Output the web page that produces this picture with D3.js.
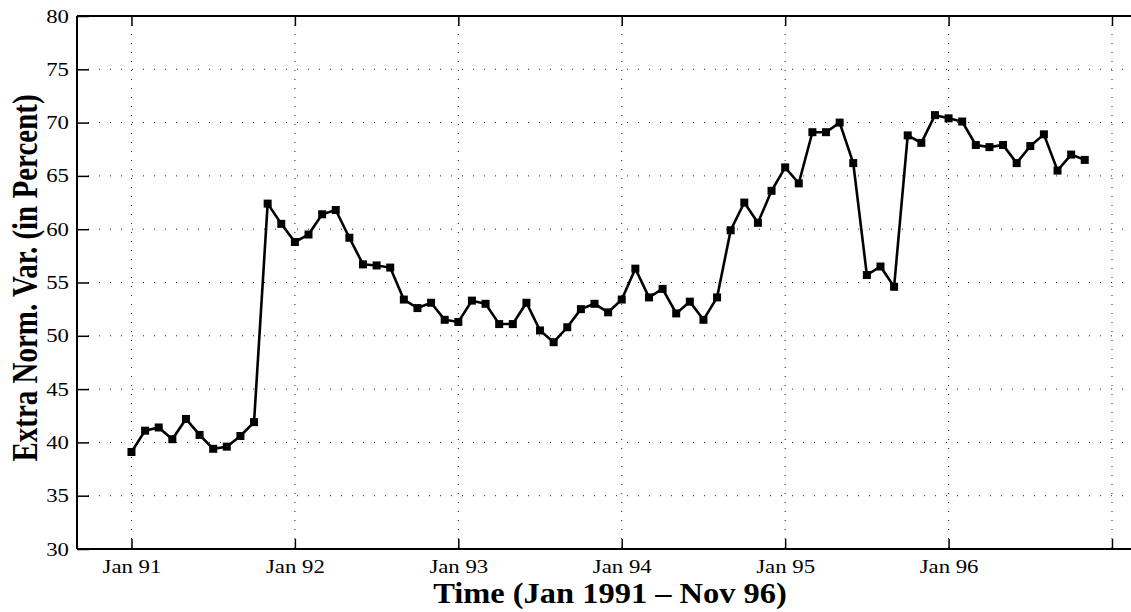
<!DOCTYPE html>
<html><head><meta charset="utf-8">
<script src="https://cdn.jsdelivr.net/npm/d3@7"></script>
<style>body{margin:0;background:#fff}svg{display:block}</style>
</head><body>
<svg id="c" width="1131" height="612"></svg>
<script>
const monthIndex = d3.range(0, 71);
const values = [39.1,41.1,41.4,40.3,42.2,40.7,39.4,39.6,40.6,41.9,
 62.4,60.5,58.8,59.5,61.4,61.8,59.2,56.7,56.6,56.4,
 53.4,52.6,53.1,51.5,51.3,53.3,53.0,51.1,51.1,53.1,
 50.5,49.4,50.8,52.5,53.0,52.2,53.4,56.3,53.6,54.4,
 52.1,53.2,51.5,53.6,59.9,62.5,60.6,63.6,65.8,64.3,
 69.1,69.1,70.0,66.2,55.7,56.5,54.6,68.8,68.1,70.7,
 70.4,70.1,67.9,67.7,67.9,66.2,67.8,68.9,65.5,67.0,66.5];
const xTickValues = [0,12,24,36,48,60,72];
const xTickLabels = ["Jan 91","Jan 92","Jan 93","Jan 94","Jan 95","Jan 96",""];
const yTickValues = [30,35,40,45,50,55,60,65,70,75,80];
const xTitle = "Time (Jan 1991 \u2013 Nov 96)";
const yTitle = "Extra Norm. Var. (in Percent)";

const svg = d3.select("#c");
const L = 77, R = 1112, T = 16, B = 549, W = 1131;
const x = d3.scaleLinear().domain([-4, 72]).range([L, R]);
const y = d3.scaleLinear().domain([30, 80]).range([B, T]);
const serif = "'Liberation Serif', 'Times New Roman', Times, serif";
const SX = 1.2;

// grid
svg.append("g").selectAll("line").data(yTickValues.filter(v=>v>30&&v<80)).join("line")
  .attr("x1", L).attr("x2", W).attr("y1", d=>y(d)).attr("y2", d=>y(d))
  .attr("stroke", "#222").attr("stroke-width", 1).attr("stroke-dasharray", "1,10");
svg.append("g").selectAll("line").data(xTickValues).join("line")
  .attr("x1", d=>x(d)).attr("x2", d=>x(d)).attr("y1", T).attr("y2", B)
  .attr("stroke", "#222").attr("stroke-width", 1).attr("stroke-dasharray", "1,8");

// axes
const xAxis = d3.axisBottom(x).tickValues(xTickValues).tickFormat((d,i)=>xTickLabels[i]).tickSizeInner(-10).tickSizeOuter(0).tickPadding(11);
const gx = svg.append("g").attr("transform", `translate(0,${B})`).call(xAxis);
gx.select(".domain").remove();
gx.attr("font-family", null).attr("font-size", null);
gx.selectAll("line").attr("stroke", "#000").attr("stroke-width", 1.5);
gx.selectAll("text").style("font-family", serif).style("font-size", "19px").attr("fill", "#000")
  .attr("transform", `scale(${SX},1)`);

const xTop = d3.axisTop(x).tickValues(xTickValues).tickFormat("").tickSizeInner(-10).tickSizeOuter(0);
const gt = svg.append("g").attr("transform", `translate(0,${T})`).call(xTop);
gt.select(".domain").remove();
gt.selectAll("line").attr("stroke", "#000").attr("stroke-width", 1.5);

const yAxis = d3.axisLeft(y).tickValues(yTickValues).tickSizeInner(-12).tickSizeOuter(0).tickPadding(8);
const gy = svg.append("g").attr("transform", `translate(${L},0)`).call(yAxis);
gy.select(".domain").remove();
gy.attr("font-family", null).attr("font-size", null);
gy.selectAll("line").attr("stroke", "#000").attr("stroke-width", 1.5);
gy.selectAll("text").style("font-family", serif).style("font-size", "19px").attr("fill", "#000")
  .attr("x", -8 / SX).attr("transform", `scale(${SX},1)`);

// frame lines
svg.append("line").attr("x1", L).attr("x2", W).attr("y1", T).attr("y2", T).attr("stroke", "#000").attr("stroke-width", 2);
svg.append("line").attr("x1", L).attr("x2", W).attr("y1", B).attr("y2", B).attr("stroke", "#000").attr("stroke-width", 2);
svg.append("line").attr("x1", L).attr("x2", L).attr("y1", T).attr("y2", B).attr("stroke", "#000").attr("stroke-width", 2);

// series
const data = monthIndex.map((m,i)=>({m, v: values[i]}));
svg.append("path").datum(data)
  .attr("d", d3.line().x(d=>x(d.m)).y(d=>y(d.v)))
  .attr("fill", "none").attr("stroke", "#000").attr("stroke-width", 2.6).attr("stroke-linejoin", "miter");
svg.append("g").selectAll("rect").data(data).join("rect")
  .attr("x", d=>x(d.m)-4).attr("y", d=>y(d.v)-4).attr("width", 8).attr("height", 8).attr("fill", "#000");

// titles
svg.append("text").attr("transform", `translate(610,603) scale(1.12,1)`).attr("text-anchor", "middle")
  .style("font-family", serif).style("font-weight", "bold").style("font-size", "29px").text(xTitle);
svg.append("text").attr("transform", `translate(37,278) scale(1.25,1) rotate(-90)`).attr("text-anchor", "middle")
  .style("font-family", serif).style("font-weight", "bold").style("font-size", "29px").text(yTitle);
</script>
</body></html>
